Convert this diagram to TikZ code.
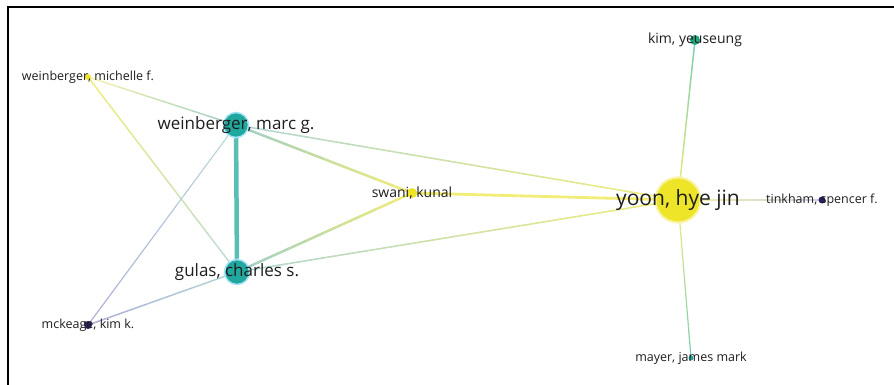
\documentclass[tikz,border=0pt]{standalone}
\usepackage{fontspec}
\setmainfont{Open Sans}
\usetikzlibrary{backgrounds, calc}
\definecolor{vyellow}{RGB}{238,228,40}
\definecolor{vteal}{RGB}{33,168,158}
\definecolor{vgreen}{RGB}{30,165,125}
\definecolor{vnavy}{RGB}{40,32,95}
\definecolor{labelgray}{RGB}{30,30,30}
\definecolor{ey}{RGB}{240,234,95}
\definecolor{et}{RGB}{140,196,190}
\definecolor{eg}{RGB}{95,195,165}
\definecolor{en}{RGB}{160,160,210}
% gradient connector: from, to, colour at from, colour at to, width
\newcommand{\gradtie}[5]{%
  \colorlet{tiefrom}{#3}\colorlet{tieto}{#4}%
  \foreach \k in {0,...,9}{
    \pgfmathtruncatemacro{\mix}{95-\k*10}
    \draw[line width=#5, color=tiefrom!\mix!tieto!85!white] ($(#1)!\k/10!(#2)$) -- ($(#1)!{(\k+1)/10}!(#2)$);
  }}

\begin{document}
\begin{tikzpicture}[
      x=1pt, y=-1pt,
      author/.style={circle, inner sep=0pt, minimum size=#1},
      biglabel/.style={text=labelgray, inner sep=0pt, font=\fontsize{21}{24}\selectfont},
      midlabel/.style={text=labelgray, inner sep=0pt, font=\fontsize{17}{20}\selectfont},
      smalllabel/.style={text=labelgray, inner sep=0pt, font=\fontsize{#1}{14}\selectfont},
      smalllabel/.default=12.5
    ]
    \useasboundingbox (0,0) rectangle (894,385);
    \draw[line width=2.5pt] (8,385) -- (8,7) -- (894,7);

    \node[author=45pt, fill=vyellow, draw=vyellow!45, line width=2pt] (yoon) at (678,200) {};
    \node[author=25pt, fill=vteal, draw=cyan!35, line width=1.5pt] (marc) at (236,125) {};
    \node[author=25pt, fill=vteal, draw=cyan!35, line width=1.5pt] (gulas) at (237,272) {};
    \node[author=10pt, fill=vyellow] (swani) at (412,193) {};
    \node[author=6pt, fill=vyellow] (michelle) at (88,77) {};
    \node[author=8pt, fill=vnavy] (mckeage) at (88,325) {};
    \node[author=10pt, fill=vgreen] (kim) at (695,40) {};
    \node[author=7pt, fill=vnavy] (tinkham) at (822,200) {};
    \node[author=5pt, fill=vteal] (mayer) at (691,358) {};

    \node[biglabel] (yoon-l) at (yoon) {yoon, hye jin};
    \node[midlabel] (marc-l) at (marc) {weinberger, marc g.};
    \node[midlabel] (gulas-l) at (gulas) {gulas, charles s.};
    \node[smalllabel=14] (swani-l) at (swani) {swani, kunal};
    \node[smalllabel] (michelle-l) at (michelle) {weinberger, michelle f.};
    \node[smalllabel] (mckeage-l) at (mckeage) {mckeage, kim k.};
    \node[smalllabel=14] (kim-l) at (kim) {kim, yeuseung};
    \node[smalllabel] (tinkham-l) at (tinkham) {tinkham, spencer f.};
    \node[smalllabel] (mayer-l) at (mayer) {mayer, james mark};

    \begin{scope}[on background layer]
      \draw[line width=4.5pt, color=vteal!75] (marc) -- (gulas);
      \gradtie{michelle}{marc}{ey!60}{et}{1.5pt}
      \gradtie{michelle}{gulas}{ey}{et!70}{1.5pt}
      \gradtie{mckeage}{marc}{en}{et!70}{1.2pt}
      \gradtie{mckeage}{gulas}{en}{et!80}{1.5pt}
      \gradtie{marc}{swani}{et}{ey}{2.5pt}
      \gradtie{gulas}{swani}{et}{ey}{2.5pt}
      \gradtie{marc}{yoon}{et!80}{ey}{1.6pt}
      \gradtie{gulas}{yoon}{et!80}{ey}{1.6pt}
      \gradtie{swani}{yoon}{ey}{ey}{2.8pt}
      \gradtie{kim}{yoon}{eg}{ey}{1.5pt}
      \gradtie{tinkham}{yoon}{en!60}{ey!70}{1.2pt}
      \gradtie{mayer}{yoon}{eg}{ey}{1.2pt}
    \end{scope}
\end{tikzpicture}
\end{document}
